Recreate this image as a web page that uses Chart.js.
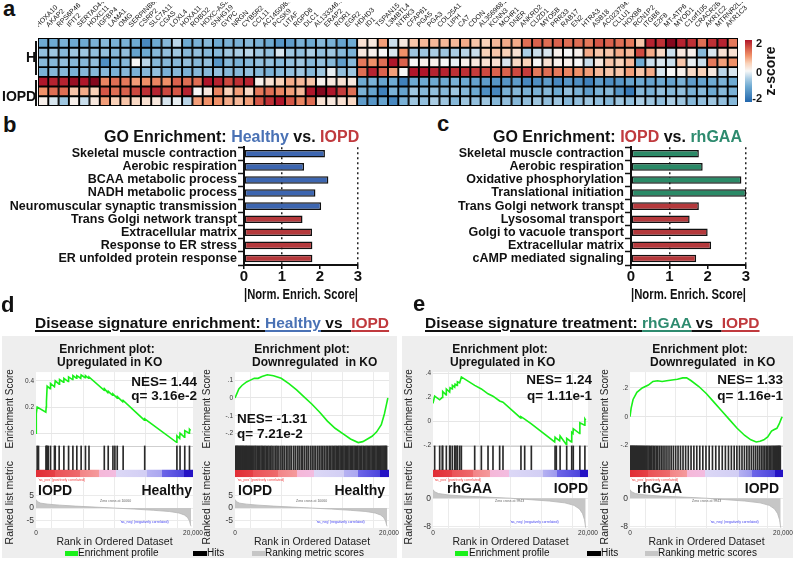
<!DOCTYPE html>
<html><head><meta charset="utf-8">
<script src="https://cdn.jsdelivr.net/npm/chart.js@4.4.1/dist/chart.umd.min.js"></script>
<style>
html,body{margin:0;padding:0}
body{width:795px;height:562px;position:relative;overflow:hidden;background:#fff;font-family:"Liberation Sans",Arial,Helvetica,sans-serif;color:#111}
canvas{position:absolute;display:block}
.t{position:absolute;white-space:nowrap;line-height:1}
.b{font-weight:bold}
.pl{font-weight:bold;font-size:22px}
.u{text-decoration:underline;text-decoration-thickness:1.5px;text-underline-offset:2px}
.panel{position:absolute;background:#eeeeee}
.sw{position:absolute;height:5px}
.tiny{position:absolute;white-space:nowrap;line-height:1;font-size:3.5px}
</style></head><body>

<div class="panel" style="left:2px;top:336px;width:395px;height:222px"></div>
<div class="panel" style="left:402px;top:336px;width:391px;height:222px"></div>

<canvas id="hm" width="740" height="104" style="left:38px;top:2px"></canvas>
<canvas id="gb" width="380" height="162" style="left:0px;top:140px"></canvas>
<canvas id="gc" width="368" height="162" style="left:400px;top:140px"></canvas>
<canvas id="dl" width="201" height="183" style="left:2px;top:365px"></canvas>
<canvas id="dr" width="200" height="183" style="left:199px;top:365px"></canvas>
<canvas id="el" width="197" height="183" style="left:401px;top:365px"></canvas>
<canvas id="er" width="198" height="183" style="left:597px;top:365px"></canvas>

<div class="t pl" style="left:3px;top:-2px">a</div>
<div class="t pl" style="left:3px;top:114px">b</div>
<div class="t pl" style="left:437px;top:113px">c</div>
<div class="t pl" style="left:1px;top:294px">d</div>
<div class="t pl" style="left:413px;top:293px">e</div>

<div class="t b" style="left:26px;top:50px;font-size:14px">H</div>
<div class="t b" style="left:2px;top:89px;font-size:14px">IOPD</div>
<div style="position:absolute;left:35px;top:41px;height:34px;border-left:2px solid #111"></div>
<div style="position:absolute;left:35px;top:80px;height:26px;border-left:2px solid #111"></div>

<div id="cbar" style="position:absolute;left:745px;top:40px;width:7px;height:62px"></div>
<div class="t b" style="left:754px;top:38px;font-size:11px;width:8px;text-align:right">2</div>
<div class="t b" style="left:754px;top:67px;font-size:11px;width:8px;text-align:right">0</div>
<div class="t b" style="left:750px;top:93px;font-size:11px;width:12px;text-align:right">-2</div>
<div class="t b" style="left:770px;top:71px;font-size:14px;transform:translate(-50%,-50%) rotate(-90deg)">z-score</div>

<div class="t b" style="left:104px;top:129px;font-size:16px">GO Enrichment: <span style="color:#4a72b5">Healthy</span> vs. <span style="color:#c03a3e">IOPD</span></div>
<div class="t b" style="left:493px;top:129px;font-size:16px">GO Enrichment: <span style="color:#c03a3e">IOPD</span> vs. <span style="color:#2e8b6f">rhGAA</span></div>

<div class="t b" style="left:35px;top:315px;font-size:15.5px"><span class="u">Disease signature enrichment: </span><span class="u" style="color:#4a72b5">Healthy</span><span class="u"> vs&nbsp; </span><span class="u" style="color:#c03a3e">IOPD</span></div>
<div class="t b" style="left:425px;top:315px;font-size:15.5px"><span class="u">Disease signature treatment: </span><span class="u" style="color:#2e8b6f">rhGAA</span><span class="u"> vs&nbsp; </span><span class="u" style="color:#c03a3e">IOPD</span></div>

<div class="t b" style="left:57px;top:343px;width:100px;text-align:center;font-size:12px;line-height:13px">Enrichment plot:<br>Upregulated in KO</div>
<div class="t b" style="left:252px;top:343px;width:100px;text-align:center;font-size:12px;line-height:13px">Enrichment plot:<br>Downregulated&nbsp; in KO</div>
<div class="t b" style="left:450px;top:343px;width:100px;text-align:center;font-size:12px;line-height:13px">Enrichment plot:<br>Upregulated in KO</div>
<div class="t b" style="left:650px;top:343px;width:100px;text-align:center;font-size:12px;line-height:13px">Enrichment plot:<br>Downregulated&nbsp; in KO</div>

<div class="t b" style="left:97px;top:375px;width:100px;text-align:right;font-size:13.5px;line-height:14px">NES= 1.44<br>q= 3.16e-2</div>
<div class="t b" style="left:237px;top:411px;font-size:13.5px;line-height:15px">NES= -1.31<br>q= 7.21e-2</div>
<div class="t b" style="left:492px;top:372px;width:100px;text-align:right;font-size:13.5px;line-height:16px">NES= 1.24<br>q= 1.11e-1</div>
<div class="t b" style="left:683px;top:372px;width:100px;text-align:right;font-size:13.5px;line-height:16px">NES= 1.33<br>q= 1.16e-1</div>

<div class="t b" style="left:38px;top:483px;font-size:14px">IOPD</div>
<div class="t b" style="left:92px;top:483px;width:100px;text-align:right;font-size:14px">Healthy</div>
<div class="t b" style="left:238px;top:483px;font-size:14px">IOPD</div>
<div class="t b" style="left:285px;top:483px;width:100px;text-align:right;font-size:14px">Healthy</div>
<div class="t b" style="left:447px;top:481px;font-size:14px">rhGAA</div>
<div class="t b" style="left:488px;top:481px;width:100px;text-align:right;font-size:14px">IOPD</div>
<div class="t b" style="left:637px;top:481px;font-size:14px">rhGAA</div>
<div class="t b" style="left:679px;top:481px;width:100px;text-align:right;font-size:14px">IOPD</div>

<div class="tiny" style="left:38px;top:479px;color:#f04040">'na_pos' (positively correlated)</div>
<div class="tiny" style="left:100px;top:500px;color:#666">Zero cross at 10060</div>
<div class="tiny" style="left:120px;top:521px;color:#4040f0">'na_neg' (negatively correlated)</div>
<div class="tiny" style="left:237px;top:479px;color:#f04040">'na_pos' (positively correlated)</div>
<div class="tiny" style="left:296px;top:500px;color:#666">Zero cross at 10060</div>
<div class="tiny" style="left:316px;top:521px;color:#4040f0">'na_neg' (negatively correlated)</div>
<div class="tiny" style="left:434px;top:479px;color:#f04040">'na_pos' (positively correlated)</div>
<div class="tiny" style="left:495px;top:500px;color:#666">Zero cross at 9943</div>
<div class="tiny" style="left:510px;top:521px;color:#4040f0">'na_neg' (negatively correlated)</div>
<div class="tiny" style="left:631px;top:479px;color:#f04040">'na_pos' (positively correlated)</div>
<div class="tiny" style="left:692px;top:500px;color:#666">Zero cross at 9943</div>
<div class="tiny" style="left:710px;top:521px;color:#4040f0">'na_neg' (negatively correlated)</div>

<div class="sw" style="left:65px;top:551px;width:13px;background:#19f019"></div>
<div class="t" style="left:78px;top:548px;font-size:10px">Enrichment profile</div>
<div class="sw" style="left:193px;top:551px;width:14px;background:#000"></div>
<div class="t" style="left:207px;top:548px;font-size:10px">Hits</div>
<div class="sw" style="left:252px;top:551px;width:13px;background:#c6c6c6"></div>
<div class="t" style="left:265px;top:548px;font-size:10px">Ranking metric scores</div>
<div class="sw" style="left:455px;top:551px;width:13px;background:#19f019"></div>
<div class="t" style="left:469px;top:548px;font-size:10px">Enrichment profile</div>
<div class="sw" style="left:587px;top:551px;width:14px;background:#000"></div>
<div class="t" style="left:601px;top:548px;font-size:10px">Hits</div>
<div class="sw" style="left:645px;top:551px;width:13px;background:#c6c6c6"></div>
<div class="t" style="left:658px;top:548px;font-size:10px">Ranking metric scores</div>

<script>
// ---------------- DATA ----------------
const genes = ["HOXA10","AKAP2","RPS6P46","IFIT2","SERTAD4-AS1","HOXC11","IGFBP4","LAMA1","OMG","SERPINB6P1","CSRP2","SLC7A11","CGAS","LOXL4","HOXA11","ROBO2","HOXC-AS2","SNHG19","GYPC","NRGN","CYB5R2","CCL11","AC145098.1","PCSK9","LITAF","RGPD8","DLC1","AL133346.1","ERAP2","ROR1","EGR2","HDHD3","ID1","TSPAN15","L3MBTL4","NTRK3","CFAP61","PGA5","PGA3","COL25A1","LIPH","CA7","CDON","AL356968.2","KCNN3","MCHR1","DNER","ANKRD2","CUZD1","MYO5B","PRR33","RAB17","EN2","HTRA3","ASB18","AC023794.5","CLLU1","HOXB6","RCN1P2","ITGB6","E2F8","MT-ATP6","MYOD1","C1orf105","CRACR2B","AKR1C2","MTRNR2L1","AKR1C3"];

// z-scores, rows top to bottom: H1..H4, IOPD1..IOPD3
const zH1 = [-1.0,-1.0,-0.9,-1.0,-1.0,-0.9,-0.8,-0.9,-0.9,-1.0, -1.5,-1.0,-0.8,-0.4,-1.0,-0.9,-0.8,-1.0,-0.9,-0.9, -0.8,-0.9,-1.0,-1.3,-1.2,-0.9,-1.0,-0.8,-0.9,-1.1, -1.0,0.3,0.2,0.9,-0.3,0.2,0.6,0.7,0.7,0.7, 0.7,0.8,0.6,0.5,0.7,0.8,0.8,1.3,1.4,1.3, 1.4,1.3,1.3,1.2,1.5,1.4,1.3,1.2,0.6,1.9, 1.8,2.2,1.9,1.8,1.3,1.8,1.9,1.2];
const zH2 = [-0.7,-0.6,-0.8,-0.6,-0.6,-0.7,-0.7,-0.8,-0.7,-1.1, -1.0,-0.8,-0.7,-0.6,-0.8,-0.7,-0.8,-0.8,-0.6,-0.5, -0.4,-0.6,-0.7,-0.2,-0.6,-0.7,-0.5,-0.7,-0.6,-0.8, -0.9,0.2,0.1,0.0,-0.2,1.0,-0.6,-0.6,-0.5,-0.6, -0.5,-0.4,-0.3,0.5,0.6,0.5,0.3,-0.5,-0.3,-0.2, 0.1,0.0,0.1,0.8,0.6,0.6,0.8,0.7,1.6,0.8, 0.4,-0.3,0.2,0.1,-0.8,-0.2,0.3,0.3];
const zH3 = [-0.8,-0.8,-0.7,-0.8,-0.8,-0.7,-1.4,-0.9,-0.8,0.0, -0.4,-0.8,-0.8,-0.8,-0.7,-0.8,-0.7,-1.3,-0.8,-0.9, -0.8,-0.7,-0.7,-0.8,-0.7,-0.6,-0.8,-0.7,-0.8,-1.2, -0.8,1.2,1.0,1.3,2.0,1.4,0.0,0.1,0.1,0.0, -0.1,0.1,0.2,0.3,0.3,-0.2,0.4,0.5,0.0,0.3, 0.1,0.1,0.0,-0.3,0.2,0.6,0.5,0.7,-1.0,-0.3, -0.2,-0.3,0.6,-0.1,-0.3,1.2,0.9,1.0];
const zH4 = [-0.9,-0.8,-0.8,-0.9,-0.8,-0.8,-0.8,-0.9,-0.8,-0.9, -0.8,-0.7,-0.9,-0.8,-0.9,-0.8,-0.8,-0.7,-0.8,-0.8, -0.7,-0.8,-0.9,-0.8,-0.7,-0.6,-0.8,-0.6,-0.1,-0.7, -0.6,1.3,1.9,1.4,0.9,0.0,2.0,2.0,1.9,1.9, 1.8,1.8,1.7,1.6,1.4,1.4,1.6,1.7,1.2,1.3, 1.2,1.1,1.0,0.9,0.7,0.6,0.6,0.9,0.6,0.8, -0.2,0.0,0.1,0.4,0.5,0.2,-0.4,-0.2];
const zI1 = [2.0,1.9,1.9,2.1,2.0,2.2,1.1,1.3,1.2,0.9, 1.0,1.1,1.0,1.4,1.3,1.3,2.0,1.9,1.6,1.8, 1.9,0.1,0.3,0.5,0.8,0.7,0.6,0.1,0.2,0.3, 0.2,-1.0,-0.9,-1.1,-1.0,-1.6,-1.0,-1.0,-1.0,-1.0, -0.9,-1.0,-1.1,-1.2,-1.3,-1.3,-1.2,-1.5,-1.4,-1.2, -1.5,-1.3,-1.4,-1.6,-1.2,-1.4,-1.3,-1.1,-1.0,-1.1, -1.0,-1.1,-0.9,-1.2,-1.1,-1.0,-0.9,-1.0];
const zI2 = [1.0,1.3,1.3,0.6,0.8,0.5,1.5,1.3,1.4,1.6, 1.8,1.9,1.6,1.5,1.9,0.0,0.2,1.1,0.5,0.9, 0.4,1.2,1.3,1.1,0.9,0.7,2.0,2.2,2.0,1.7, 1.3,-0.9,-1.1,-1.6,-0.9,-1.1,-0.6,-0.8,-0.7,-0.8, -0.6,-0.8,-1.0,-1.4,-1.5,-0.9,-0.8,-0.9,-0.9,-0.8, -1.0,-0.7,-0.9,-1.2,-0.9,-0.8,-1.3,-1.7,-0.8,-0.9, -0.7,-0.8,-0.7,-0.9,-0.8,-1.0,-0.8,-0.9];
const zI3 = [0.1,-0.2,-0.6,0.1,-0.3,0.2,0.9,0.5,0.6,0.4, 0.3,0.2,-0.2,-0.1,-0.4,0.9,1.0,1.0,0.8,0.7, 0.9,1.5,1.8,2.0,1.5,1.1,1.3,0.3,0.2,0.3, 0.4,-1.2,-1.3,-1.1,-1.5,-0.9,-0.6,-0.7,-0.5,-0.6, -0.8,-0.6,-0.7,-0.6,-0.8,-0.7,-0.8,-0.7,-0.6,-0.7, -0.6,-0.8,-0.7,-0.6,-0.7,-0.8,-0.6,-0.7,-0.5,-0.6, -0.7,-0.5,-0.6,-0.8,-0.7,-0.6,-0.7,-0.8];

// Panel b
const bTerms = ["Skeletal muscle contraction","Aerobic respiration","BCAA metabolic process","NADH metabolic process","Neuromuscular synaptic transmission","Trans Golgi network transpt","Extracellular matrix","Response to ER stress","ER unfolded protein response"];
const bNES = [2.13,1.58,2.22,1.88,2.03,1.54,1.79,1.80,1.80];
const bGroup = ["Healthy","Healthy","Healthy","Healthy","Healthy","IOPD","IOPD","IOPD","IOPD"];
// Panel c
const cTerms = ["Skeletal muscle contraction","Aerobic respiration","Oxidative phosphorylation","Translational initiation","Trans Golgi network transpt","Lysosomal transport","Golgi to vacuole transport","Extracellular matrix","cAMP mediated signaling"];
const cNES = [1.77,1.87,2.88,3.0,1.77,1.53,2.0,2.09,1.70];
const cGroup = ["rhGAA","rhGAA","rhGAA","rhGAA","IOPD","IOPD","IOPD","IOPD","IOPD"];

// Panel d: Healthy vs IOPD, [rank, enrichment score]
const dUpES = [[0,0],[40,0.15],[150,0.2],[1250,0.16],[1300,0.2],[1330,0.24],[1420,0.36],[1800,0.34],[1850,0.38],[2350,0.355],[2450,0.4],[2950,0.375],[3000,0.41],[3500,0.39],[3550,0.42],[4100,0.395],[4150,0.43],[4650,0.41],[4700,0.44],[5150,0.42],[5200,0.44],[5700,0.42],[5750,0.445],[6250,0.425],[6300,0.44],[6700,0.42],[6750,0.43],[8650,0.33],[8700,0.34],[9150,0.31],[9200,0.32],[9750,0.29],[9800,0.3],[10300,0.27],[10350,0.28],[11050,0.24],[11100,0.25],[13800,0.1],[13850,0.11],[17900,-0.07],[17950,-0.02],[18300,-0.04],[18350,0.0],[18900,-0.03],[18950,0.02],[19500,0.0],[19550,0.03],[19700,0.02]];
const dUpHits = [150,320,1280,1330,1420,1560,1850,2350,2450,2950,3550,4150,4700,5200,5750,6300,6750,8700,9200,9800,10050,10350,11100,13850,17950,18350,18950,19550];
const dDownES = [[0,0],[200,0.02],[500,0.05],[900,0.07],[1500,0.09],[2000,0.1],[2500,0.11],[3000,0.11],[3500,0.12],[4200,0.13],[5000,0.125],[6000,0.11],[7000,0.08],[8000,0.045],[9000,0.005],[10000,-0.035],[11000,-0.08],[12000,-0.13],[13000,-0.17],[14000,-0.2],[15000,-0.23],[16000,-0.25],[16600,-0.245],[17200,-0.23],[17800,-0.215],[18400,-0.19],[19000,-0.15],[19400,-0.09],[19700,-0.03],[19850,0.0]];
const dDownHits = [40,150,260,330,450,560,690,780,900,1010,1120,1240,1390,1480,1610,1750,1880,2010,2160,2290,2450,2600,2720,2890,3050,3200,3380,3530,3700,3880,4050,4260,4430,4650,4820,5060,5290,5470,5700,5960,6180,6390,6650,6880,7130,7340,7620,7850,8110,8330,8590,8800,9050,9300,9510,9780,10020,10260,10480,10730,10950,11180,11390,11600,11830,12030,12240,12420,12610,12790,12970,13140,13320,13480,13650,13810,13990,14150,14310,14480,14640,14800,14970,15130,15290,15460,15620,15790,15950,16120,16300,16470,16650,16820,17000,17160,17330,17490,17660,17820,17990,18150,18310,18470,18620,18780,18930,19080,19220,19350,19470,19590,19690];
const dMetric = [[0,3.5],[200,2.6],[600,2.0],[1500,1.6],[3000,1.2],[5000,0.8],[7500,0.4],[10060,0],[12500,-0.4],[15000,-0.9],[17000,-1.4],[18200,-2.0],[18900,-2.8],[19300,-3.8],[19550,-5.2],[19700,-7.0],[19750,-7.4]];

// Panel e: rhGAA vs IOPD
const eUpES = [[0,0.15],[215,0.21],[860,0.18],[1200,0.2],[1250,0.25],[1700,0.22],[1720,0.27],[2150,0.245],[2200,0.28],[2490,0.27],[2500,0.3],[2800,0.285],[2850,0.31],[3100,0.3],[3150,0.33],[3440,0.32],[3660,0.37],[5380,0.3],[6240,0.27],[7100,0.23],[7740,0.21],[8600,0.17],[9030,0.16],[11300,0.03],[11350,0.04],[11830,0.02],[12690,-0.02],[15700,-0.17],[15750,-0.13],[15910,-0.14],[16340,-0.16],[16400,-0.12],[17200,-0.19],[17250,-0.14],[17850,-0.17],[17900,-0.09],[18060,-0.1],[18100,-0.06],[18920,-0.1],[18950,-0.01],[19570,-0.03],[19600,0.02],[19700,0.01]];
const eUpHits = [215,860,1200,1250,1720,2150,2200,2490,2800,2850,3100,3150,3440,3660,5380,6240,7100,7740,8600,9030,11350,11830,12690,15750,15910,16400,17250,17900,18100,18950,19600];
const eDownES = [[0,0],[150,0.06],[400,0.12],[900,0.17],[1600,0.2],[2400,0.22],[3000,0.245],[3600,0.25],[4200,0.245],[4800,0.25],[5500,0.255],[6200,0.26],[6900,0.27],[7400,0.27],[8000,0.25],[9000,0.21],[10000,0.16],[11000,0.1],[12000,0.04],[13000,-0.02],[14000,-0.08],[15000,-0.13],[15800,-0.16],[16500,-0.175],[17000,-0.17],[17500,-0.16],[18000,-0.14],[18500,-0.1],[18800,-0.09],[19200,-0.08],[19500,-0.05],[19800,-0.01],[19900,0.0]];
const eDownHits = [30,110,190,270,350,440,520,610,700,800,890,990,1090,1200,1310,1420,1540,1660,1790,1920,2060,2200,2350,2510,2680,2850,3030,3220,3420,3630,3850,4080,4320,4570,4830,5100,5380,5670,5970,6280,6600,6930,7270,7620,7980,8350,8730,9120,9520,9930,10350,10780,11210,11640,12060,12470,12870,13250,13620,13970,14310,14640,14960,15270,15570,15860,16140,16410,16670,16920,17160,17390,17610,17820,18020,18210,18390,18560,18720,18870,19010,19140,19260,19370,19470,19560,19650];
const eMetric = [[0,2.4],[200,1.8],[700,1.3],[2000,0.9],[4000,0.6],[7000,0.3],[9943,0],[12500,-0.4],[15000,-0.8],[17000,-1.3],[18200,-2.0],[18900,-3.0],[19300,-4.3],[19550,-6.0],[19700,-8.2]];

// ---------------- STYLE ----------------
Chart.defaults.font.family = '"Liberation Sans", Arial, sans-serif';
Chart.defaults.color = '#111';
const groupColor = {Healthy:'#3d66b0', IOPD:'#b5393c', rhGAA:'#2b8a67'};
const zStops = [[-2.3,[20,70,140]],[-2,[33,102,172]],[-1,[110,170,210]],[-0.5,[170,205,228]],[0,[247,247,247]],[0.5,[250,210,185]],[1,[240,145,105]],[1.5,[212,86,70]],[2,[175,22,42]],[2.3,[110,0,22]]];
function zColor(z){
  if (z <= zStops[0][0]) return 'rgb('+zStops[0][1].join(',')+')';
  for (let i=1;i<zStops.length;i++){
    if (z <= zStops[i][0]){
      const [a,ca]=zStops[i-1],[b,cb]=zStops[i]; const t=(z-a)/(b-a);
      return 'rgb('+ca.map((c,k)=>Math.round(c+(cb[k]-c)*t)).join(',')+')';
    }
  }
  return 'rgb('+zStops[zStops.length-1][1].join(',')+')';
}
document.getElementById('cbar').style.background = 'linear-gradient(to top,'+[-2,-1.5,-1,-0.5,0,0.5,1,1.5,2].map(zColor).join(',')+')';

// ---------------- HEATMAP ----------------
const hmRows = [zH1,zH2,zH3,zH4,zI1,zI2,zI3];
new Chart(document.getElementById('hm'), {
  type:'bar',
  data:{ labels: genes, datasets: hmRows.slice().reverse().map(r => ({
    data: r.map(() => 1), backgroundColor: r.map(zColor), borderColor:'#000', borderWidth:1.3,
    borderSkipped:false, barPercentage:1, categoryPercentage:1 })) },
  options:{ responsive:false, animation:false, devicePixelRatio:1,
    layout:{padding:{left:0,right:40,top:0,bottom:0}},
    plugins:{legend:{display:false}, tooltip:{enabled:false}},
    scales:{
      x:{position:'top', stacked:true, grid:{display:false}, border:{display:false},
         ticks:{autoSkip:false, minRotation:45, maxRotation:45, font:{size:7}, color:'#111', padding:1},
         afterFit:s=>{s.height=36; s.paddingLeft=0; s.paddingRight=0;}},
      y:{stacked:true, min:0, max:7, display:false}
    } }
});

// ---------------- GO BAR CHARTS ----------------
function goChart(id, terms, vals, groups, axisW){
  return new Chart(document.getElementById(id), {
    type:'bar',
    data:{ labels: terms, datasets:[{ data: vals, backgroundColor: groups.map(g=>groupColor[g]),
      borderColor:'#111', borderWidth:1.5, borderSkipped:false, barPercentage:0.58, categoryPercentage:1 }]},
    options:{ indexAxis:'y', responsive:false, animation:false, devicePixelRatio:1,
      layout:{padding:{top:6,right:22,left:0,bottom:0}},
      plugins:{legend:{display:false}, tooltip:{enabled:false}},
      scales:{
        x:{min:0, max:3, ticks:{stepSize:1, font:{size:15, weight:'bold', lineHeight:1}, color:'#111', padding:0},
           grid:{color:c => (c.tick && (c.tick.value===1 || c.tick.value===3)) ? '#222' : 'rgba(0,0,0,0)', lineWidth:1.5,
                 tickColor:'#111', tickLength:4, tickWidth:1.5},
           border:{color:'#111', width:2, dash:[2,3]},
           title:{display:true, text:'|Norm. Enrich. Score|', font:{size:15, weight:'bold', lineHeight:1}, color:'#111', padding:{top:2,bottom:0}},
           afterFit:s=>{s.height=37; s.paddingLeft=0; s.paddingRight=0;}},
        y:{ticks:{autoSkip:false, font:{size:12.5, weight:'bold', lineHeight:1}, color:'#111', padding:1},
           grid:{drawOnChartArea:false, tickLength:6, tickColor:'#111', tickWidth:1.5},
           border:{color:'#111', width:2},
           afterFit:s=>{s.width=axisW;}}
      } }
  });
}
goChart('gb', bTerms, bNES, bGroup, 244);
goChart('gc', cTerms, cNES, cGroup, 231);

// ---------------- GSEA PLOTS ----------------
const dBands = [[0,0.12,'#e02d35','#e64046'],[0.12,0.28,'#ea5257','#ee6a6c'],[0.28,0.4,'#f28486','#f59a9c'],[0.4,0.51,'#f5b8d8','#f3bce0'],[0.51,0.71,'#dcd8f6','#d2cef4'],[0.71,0.8,'#b6b2f2','#aaa6f0'],[0.8,0.94,'#6d66e8','#4c44dc'],[0.94,1,'#2412c4','#2412c4']];
const eBands = [[0,0.12,'#e02d35','#e64046'],[0.12,0.26,'#ea5257','#ee6a6c'],[0.26,0.37,'#f28486','#f59a9c'],[0.37,0.49,'#f5b8d8','#f3bce0'],[0.49,0.71,'#dcd8f6','#d2cef4'],[0.71,0.8,'#b6b2f2','#9c98ee'],[0.8,0.95,'#6d66e8','#4c44dc'],[0.95,1,'#2412c4','#2412c4']];
function bandFill(c, bands){
  const ch = c.chart, a = ch.chartArea;
  if (!a) return '#ccc';
  const g = ch.ctx.createLinearGradient(a.left,0,a.right,0);
  bands.forEach(b => { g.addColorStop(b[0], b[2]); g.addColorStop(b[1], b[3]); });
  return g;
}
const gseaBg = { id:'gseaBg',
  beforeDraw(ch){ const a=ch.chartArea, x=ch.ctx; x.save(); x.fillStyle='#fff'; x.fillRect(a.left,a.top,a.right-a.left,a.bottom-a.top); x.restore(); },
  beforeDatasetsDraw(ch){ const s=ch.scales.yES, a=ch.chartArea, x=ch.ctx; x.save(); x.strokeStyle='#cfcfcf'; x.lineWidth=1;
    x.beginPath(); x.moveTo(a.left, Math.round(s.bottom)+0.5); x.lineTo(a.right, Math.round(s.bottom)+0.5); x.stroke(); x.restore(); }
};
function gsea(id, o){
  const fit = s => { s.width = o.axisW; };
  return new Chart(document.getElementById(id), {
    type:'line',
    data:{ datasets:[
      {type:'line', data:o.es.map(p=>({x:p[0],y:p[1]})), yAxisID:'yES', borderColor:'#19f019', borderWidth:1.6, pointRadius:0, tension:0, fill:false, order:0},
      {type:'bar', data:o.hits.map(r=>({x:r,y:[0.24,1]})), yAxisID:'yH', backgroundColor:'#2a2a2a', barThickness:1, order:1},
      {type:'line', data:[{x:0,y:0.24},{x:20000,y:0.24}], yAxisID:'yH', borderWidth:0, pointRadius:0, fill:'origin', backgroundColor:c=>bandFill(c,o.bands), order:2},
      {type:'line', data:o.metric.map(p=>({x:p[0],y:p[1]})), yAxisID:'yM', borderColor:'#b5b5b5', borderWidth:0.8, pointRadius:0, tension:0, fill:'origin', backgroundColor:'#c6c6c6', order:3}
    ]},
    options:{ responsive:false, animation:false, devicePixelRatio:1,
      layout:{padding:{top:6,right:o.padR,left:0,bottom:0}},
      plugins:{legend:{display:false}, tooltip:{enabled:false}},
      scales:{
        x:{type:'linear', min:0, max:20000, offset:false,
           afterBuildTicks:s=>{ s.ticks=[0,4000,8000,12000,16000,20000].map(v=>({value:v})); },
           ticks:{autoSkip:false, maxRotation:0, minRotation:0, font:{size:6.5}, color:'#333', padding:1,
                  callback:v => v===0 ? '0' : (v===20000 ? '20,000' : '')},
           grid:{color:'#ebebeb', drawTicks:false}, border:{display:false},
           title:{display:true, text:'Rank in Ordered Dataset', font:{size:10.5}, color:'#222', padding:{top:0,bottom:0}},
           afterFit:s=>{ s.height=20; s.paddingLeft=0; s.paddingRight=0; }},
        yM:{type:'linear', position:'left', stack:'g', stackWeight:51, min:o.mMin, max:o.mMax,
            afterBuildTicks:s=>{ s.ticks=o.mTicks.map(v=>({value:v})); },
            ticks:{font:{size:8.5}, color:'#333', padding:2},
            grid:{color:'#ebebeb', drawTicks:false}, border:{display:false},
            title:{display:true, text:'Ranked list metric', font:{size:10.5}, color:'#222', padding:{top:2,bottom:2}},
            afterFit:fit},
        yH:{type:'linear', position:'left', stack:'g', stackWeight:32, min:0, max:1,
            ticks:{display:false}, grid:{display:false}, border:{display:false}, afterFit:fit},
        yES:{type:'linear', position:'left', stack:'g', stackWeight:74, min:o.esMin, max:o.esMax,
            afterBuildTicks:s=>{ s.ticks=o.esTicks.map(v=>({value:v})); },
            ticks:{font:{size:6.5}, color:'#333', padding:2, callback:(v,i)=>o.esLabels[i]},
            grid:{color:'#e6e6e6', drawTicks:false}, border:{display:false},
            title:{display:true, text:'Enrichment Score', font:{size:10}, color:'#222', padding:{top:2,bottom:2}},
            afterFit:fit}
      } },
    plugins:[gseaBg]
  });
}
gsea('dl', {es:dUpES, hits:dUpHits, metric:dMetric, bands:dBands, axisW:34, padR:10,
  esMin:-0.095, esMax:0.467, esTicks:[0,0.2,0.4], esLabels:['0','0.2','0.4'], mMin:-8.1, mMax:12.5, mTicks:[-5,0,5]});
gsea('dr', {es:dDownES, hits:dDownHits, metric:dMetric, bands:dBands, axisW:36, padR:10,
  esMin:-0.267, esMax:0.145, esTicks:[-0.2,-0.1,0,0.1], esLabels:['-.2','-.1','0','.1'], mMin:-8.1, mMax:12.5, mTicks:[-5,0,5]});
gsea('el', {es:eUpES, hits:eUpHits, metric:eMetric, bands:eBands, axisW:32, padR:10,
  esMin:-0.2, esMax:0.41, esTicks:[-0.2,0,0.2,0.4], esLabels:['-.2','0','.2','.4'], mMin:-8.3, mMax:5.8, mTicks:[-8,-4,0,4]});
gsea('er', {es:eDownES, hits:eDownHits, metric:eMetric, bands:eBands, axisW:33, padR:12,
  esMin:-0.2, esMax:0.31, esTicks:[-0.2,0,0.2], esLabels:['-.2','0','.2'], mMin:-8.3, mMax:5.8, mTicks:[-8,-4,0,4]});
</script>
</body></html>
